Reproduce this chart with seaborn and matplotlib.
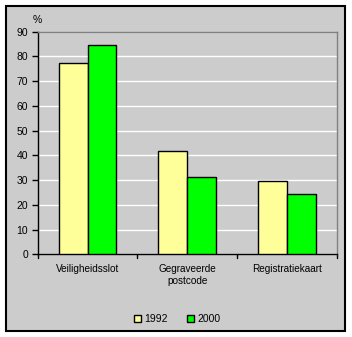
import matplotlib
matplotlib.use("Agg")
import matplotlib.pyplot as plt
from matplotlib.patches import Rectangle
import seaborn as sns
import pandas as pd

categories = ["Veiligheidsslot", "Gegraveerde\npostcode", "Registratiekaart"]
years = ["1992", "2000"]
values_1992 = [77.2, 41.6, 29.5]
values_2000 = [84.5, 31.4, 24.3]
y_ticks = [0, 10, 20, 30, 40, 50, 60, 70, 80, 90]

df = pd.DataFrame({
    "categorie": categories * 2,
    "jaar": [years[0]] * 3 + [years[1]] * 3,
    "waarde": values_1992 + values_2000,
})

sns.set_theme(style="white")
plt.rcParams["font.family"] = ["Liberation Sans", "DejaVu Sans"]
plt.rcParams["text.color"] = "black"
plt.rcParams["xtick.color"] = "black"
plt.rcParams["ytick.color"] = "black"

W, H = 352, 337
bg = "#CCCCCC"
fig = plt.figure(figsize=(W / 100, H / 100), dpi=100, facecolor="white")

# outer chart frame
frame = Rectangle((5.5 / W, (H - 330.5) / H), 339.5 / W, 325 / H,
                  transform=fig.transFigure, facecolor=bg,
                  edgecolor="black", linewidth=1.5, zorder=-10)
fig.add_artist(frame)

ax = fig.add_axes([37.7 / W, (H - 254.3) / H, 299 / W, 222.6 / H])
ax.set_zorder(1)
ax.set_facecolor(bg)

sns.barplot(data=df, x="categorie", y="waarde", hue="jaar",
            palette=["#FFFF99", "#00FF00"], width=0.58, gap=0,
            edgecolor="black", linewidth=1.0, saturation=1, ax=ax,
            zorder=3)

ax.set_ylim(0, 90)
ax.set_xlim(-0.5, 2.5)
ax.set_yticks(y_ticks)
ax.yaxis.grid(True, color="white", linewidth=1.0, zorder=0)
ax.set_axisbelow(True)

for s in ["top", "right"]:
    ax.spines[s].set_color("#808080")
    ax.spines[s].set_linewidth(1.0)
for s in ["left", "bottom"]:
    ax.spines[s].set_color("black")
    ax.spines[s].set_linewidth(1.0)

ax.set_xlabel("")
ax.set_ylabel("")
ax.tick_params(axis="y", direction="out", length=4, width=1, color="black",
               labelcolor="black", labelsize=7.5, pad=3, left=True)
ax.set_xticks([0, 1, 2])
ax.set_xticklabels(categories, fontsize=7.2, linespacing=1.3, color="black")
ax.tick_params(axis="x", length=0, pad=7)

# category separator ticks on the x axis
for xb in [-0.5, 0.5, 1.5, 2.5]:
    ax.plot([xb, xb], [0, -1.6], color="black", linewidth=1, clip_on=False,
            transform=ax.transData)

ax.text(0, 1.03, "%", transform=ax.transAxes, fontsize=7.5,
        ha="center", va="bottom", color="black")

handles, labels = ax.get_legend_handles_labels()
leg = ax.legend(handles, labels, loc="center",
                bbox_to_anchor=(177 / W, (H - 319) / H),
                bbox_transform=fig.transFigure, ncol=2, frameon=False,
                fontsize=7.5, handlelength=0.7, handleheight=0.7,
                handletextpad=0.3, columnspacing=1.8, labelcolor="black")

fig.savefig("out.png", dpi=100, facecolor="white")
